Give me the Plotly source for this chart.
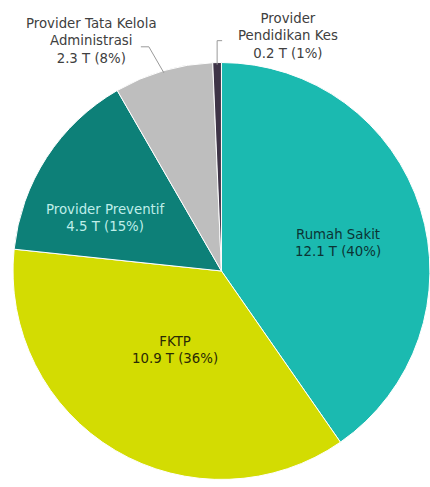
import math
import plotly.graph_objects as go

# Health-spending breakdown by provider (trillion rupiah)
labels = ["Rumah Sakit", "FKTP", "Provider Preventif",
          "Provider Tata Kelola Administrasi", "Provider Pendidikan Kes"]
display_names = ["Rumah Sakit", "FKTP", "Provider Preventif",
                 "Provider Tata Kelola<br>Administrasi", "Provider<br>Pendidikan Kes"]
values = [12.1, 10.9, 4.5, 2.3, 0.2]
colors = ["#1BBAB0", "#D3DC02", "#0D8078", "#BEBEBE", "#3E3447"]
text_colors = ["#0B3434", "#2A2A05", "#BFEEE9", "#404040", "#404040"]

W, H = 430, 487
FONT = "DejaVu Sans"
FONT_SIZE = 13.3
DOMAIN_X = [0.03, 1.0]
DOMAIN_Y = [0.0155, 0.8716]

total = sum(values)
shares = [round(v / total * 100) for v in values]
texts = [f"{n}<br>{v:.1f} T ({p}%)" for n, v, p in zip(display_names, values, shares)]

# slice mid-angles, clockwise from 12 o'clock
mid_angles = []
acc = 0.0
for v in values:
    mid_angles.append((acc + v / 2) / total * 360.0)
    acc += v

# pie geometry in pixels (plotly uses the smaller domain side)
R = min((DOMAIN_X[1] - DOMAIN_X[0]) * W, (DOMAIN_Y[1] - DOMAIN_Y[0]) * H) / 2
CX = (DOMAIN_X[0] + DOMAIN_X[1]) / 2 * W
CY = (1 - (DOMAIN_Y[0] + DOMAIN_Y[1]) / 2) * H


def polar_px(angle_deg, r):
    a = math.radians(angle_deg)
    return CX + r * math.sin(a), CY - r * math.cos(a)


def to_paper(px, py):
    return px / W, 1 - py / H


fig = go.Figure(go.Pie(
    labels=labels,
    values=values,
    sort=False,
    direction="clockwise",
    rotation=0,
    textinfo="none",
    marker=dict(colors=colors, line=dict(color="white", width=1)),
    domain=dict(x=DOMAIN_X, y=DOMAIN_Y),
    hovertemplate="%{label}: %{value} T (%{percent})<extra></extra>",
))

annotations = []
shapes = []

# labels inside the three large slices: (angle offset, radius fraction)
inside = {0: (4.0, 0.575), 1: (0.0, 0.44), 2: (-8.5, 0.614)}
for i, (dang, rf) in inside.items():
    px, py = polar_px(mid_angles[i] + dang, rf * R)
    x, y = to_paper(px, py)
    annotations.append(dict(x=x, y=y, xref="paper", yref="paper", text=texts[i],
                            showarrow=False, xanchor="center", yanchor="middle",
                            align="center",
                            font=dict(family=FONT, size=FONT_SIZE, color=text_colors[i])))

# labels outside the two small slices, with elbow leader lines
# (leader offsets and text offset relative to the slice's outer edge, in px)
outside = {
    3: dict(path=[(-15, -26), (-23, -26)], text=(-72, -32)),
    4: dict(path=[(0, -24), (5, -24)], text=(71, -29)),
}
for i, spec in outside.items():
    ex, ey = polar_px(mid_angles[i], R * 0.99)
    pts = [(ex, ey)] + [(ex + dx, ey + dy) for dx, dy in spec["path"]]
    path = ""
    for k, (px, py) in enumerate(pts):
        x, y = to_paper(px, py)
        path += ("M" if k == 0 else " L") + f" {x:.5f},{y:.5f}"
    shapes.append(dict(type="path", path=path, xref="paper", yref="paper",
                       line=dict(color="#9A9A9A", width=1)))
    tx, ty = to_paper(ex + spec["text"][0], ey + spec["text"][1])
    annotations.append(dict(x=tx, y=ty, xref="paper", yref="paper", text=texts[i],
                            showarrow=False, xanchor="center", yanchor="middle",
                            align="center",
                            font=dict(family=FONT, size=FONT_SIZE, color=text_colors[i])))

fig.update_layout(
    width=W, height=H,
    margin=dict(l=0, r=0, t=0, b=0),
    paper_bgcolor="white",
    plot_bgcolor="white",
    showlegend=False,
    annotations=annotations,
    shapes=shapes,
)

fig.write_html("out.html")
